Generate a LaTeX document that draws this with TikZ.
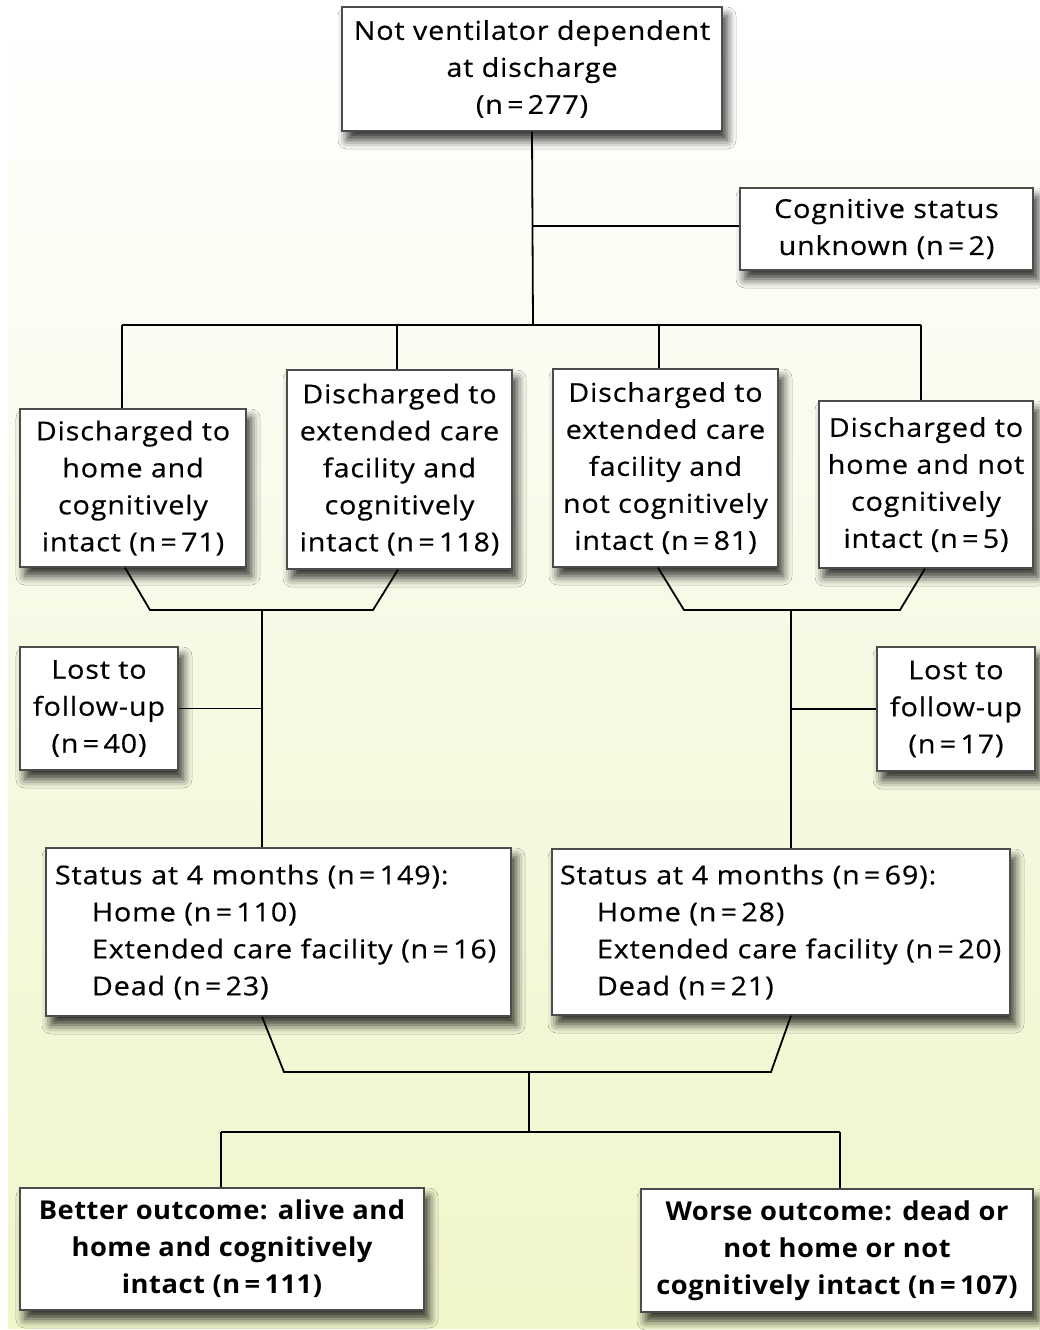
\documentclass[tikz,border=0pt]{standalone}
\usepackage{fontspec}
\setmainfont{Open Sans}[FakeStretch=1.1, LetterSpace=3.5, FakeBold=0.5,
  BoldFeatures={FakeStretch=1.05, LetterSpace=2, FakeBold=0}]
\usetikzlibrary{shadows.blur}
\definecolor{bgyellow}{RGB}{241,246,202}
\definecolor{bgmid}{RGB}{247,249,228}
\begin{document}
\begin{tikzpicture}[x=1pt,y=-1pt,
  box/.style={draw=black!70, line width=1.3pt, fill=white, inner sep=0pt, align=center,
    font=\fontsize{26}{37}\selectfont,
    blur shadow={shadow xshift=5pt, shadow yshift=-9pt, shadow blur radius=9pt, shadow opacity=80}},
  boldbox/.style={box, font=\fontsize{26}{37}\selectfont\bfseries},
  statbox/.style={box, align=left},
  link/.style={line width=1.8pt, black}]
% background
\useasboundingbox (0,0) rectangle (1040,1330);
\fill[white] (0,0) rectangle (1040,1330);
\shade[top color=white, bottom color=bgyellow, middle color=bgmid] (8,0) rectangle (1040,1328);

% nodes
\node[box, minimum width=380pt, minimum height=124pt] (top) at (532,69)
  {Not ventilator dependent\\at discharge\\(n\,=\,277)};
\node[box, minimum width=293pt, minimum height=82pt] (unk) at (886.5,229)
  {Cognitive status\\unknown (n\,=\,2)};
\node[box, minimum width=226pt, minimum height=158pt] (A) at (133,488)
  {Discharged to\\home and\\cognitively\\intact (n\,=\,71)};
\node[box, minimum width=225pt, minimum height=199pt] (B) at (399.5,469.5)
  {Discharged to\\extended care\\facility and\\cognitively\\intact (n\,=\,118)};
\node[box, minimum width=225pt, minimum height=198pt] (C) at (665.5,468)
  {Discharged to\\extended care\\facility and\\not cognitively\\intact (n\,=\,81)};
\node[box, minimum width=214pt, minimum height=167pt] (D) at (926,484.5)
  {Discharged to\\home and not\\cognitively\\intact (n\,=\,5)};
\node[box, minimum width=158pt, minimum height=123pt] (lostL) at (99,708.5)
  {Lost to\\follow-up\\(n\,=\,40)};
\node[box, minimum width=158pt, minimum height=124pt] (lostR) at (956,709)
  {Lost to\\follow-up\\(n\,=\,17)};
\node[statbox, text width=447pt, inner xsep=9pt, minimum height=168pt] (statL) at (278.5,932)
  {Status at 4 months (n\,=\,149):\\
   \hspace*{37pt}Home (n\,=\,110)\\
   \hspace*{37pt}Extended care facility (n\,=\,16)\\
   \hspace*{37pt}Dead (n\,=\,23)};
\node[statbox, text width=442pt, inner xsep=8pt, minimum height=166pt] (statR) at (781,932)
  {Status at 4 months (n\,=\,69):\\
   \hspace*{37pt}Home (n\,=\,28)\\
   \hspace*{37pt}Extended care facility (n\,=\,20)\\
   \hspace*{37pt}Dead (n\,=\,21)};
\node[boldbox, minimum width=404pt, minimum height=122pt] (better) at (222,1249)
  {Better outcome: alive and\\home and cognitively\\intact (n\,=\,111)};
\node[boldbox, minimum width=392pt, minimum height=123pt] (worse) at (837,1250.5)
  {Worse outcome: dead or\\not home or not\\cognitively intact (n\,=\,107)};

% coordinates
\coordinate (j0) at (533,226);
\coordinate (j1) at (533,325);
\coordinate (bA) at (122,325);
\coordinate (bB) at (397,325);
\coordinate (bC) at (659,325);
\coordinate (bD) at (921,325);
\coordinate (tL1) at (150,610);
\coordinate (tL2) at (373,610);
\coordinate (mL) at (262,610);
\coordinate (tR1) at (684,610);
\coordinate (tR2) at (900,610);
\coordinate (mR) at (791,610);
\coordinate (tB1) at (284,1072);
\coordinate (tB2) at (771,1072);
\coordinate (mB) at (529,1072);
\coordinate (bb) at (529,1132);
\coordinate (bL) at (221,1132);
\coordinate (bR) at (840,1132);

% connectors
\draw[link] (top.south) -- (j1);
\draw[link] (j0) -- (j0 -| unk.west);
\draw[link] (bA) -- (bD);
\draw[link] (bA) -- (bA |- A.north);
\draw[link] (bB) -- (bB |- B.north);
\draw[link] (bC) -- (bC |- C.north);
\draw[link] (bD) -- (bD |- D.north);

\draw[link] ([xshift=-8pt]A.south) -- (tL1) -- (tL2) -- ([xshift=-1.5pt]B.south);
\draw[link] ([xshift=-7.5pt]C.south) -- (tR1) -- (tR2) -- ([xshift=-1pt]D.south);
\draw[link] (mL) -- (mL |- statL.north);
\draw[link] (mR) -- (mR |- statR.north);
\draw[link] (lostL.east) -- (lostL.east -| mL);
\draw[link] (lostR.west -| mR) -- (lostR.west);

\draw[link] ([xshift=-16.5pt]statL.south) -- (tB1) -- (tB2) -- ([xshift=10pt]statR.south);
\draw[link] (mB) -- (bb);
\draw[link] (bL) -- (bR);
\draw[link] (bL) -- (bL |- better.north);
\draw[link] (bR) -- (bR |- worse.north);
\end{tikzpicture}
\end{document}
